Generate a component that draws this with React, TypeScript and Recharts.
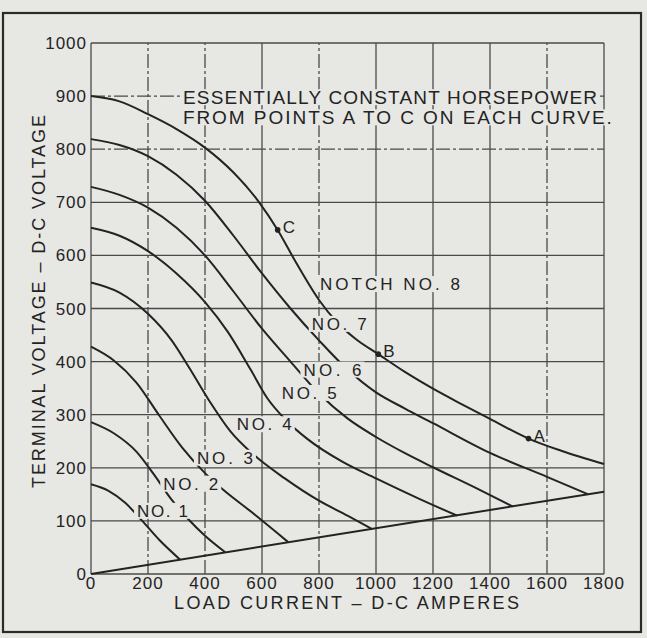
import React from "react";
import { LineChart, Line, XAxis, YAxis, ReferenceLine, ReferenceDot } from "recharts";

const PAPER = "#e7e7e4";
const INK = "#232323";
const GRID = "#4a4a4a";
const FONT = "'Liberation Sans', Arial, Helvetica, sans-serif";

const X_TICKS = [0, 200, 400, 600, 800, 1000, 1200, 1400, 1600, 1800];
const Y_TICKS = [0, 100, 200, 300, 400, 500, 600, 700, 800, 900, 1000];
const DASHED_X = [200, 400, 800, 1600];
const DASHED_Y = [800, 900];

// [amperes, volts]
const NOTCH_1 = [[0, 169], [60, 157], [120, 134], [180, 100], [240, 64], [313, 27]];
const NOTCH_2 = [[0, 286], [80, 265], [160, 230], [220, 188], [280, 142], [340, 104], [400, 72], [471, 41]];
const NOTCH_3 = [[0, 428], [80, 402], [160, 360], [240, 298], [320, 238], [400, 190], [465, 158], [560, 118], [692, 60]];
const NOTCH_4 = [[0, 549], [100, 530], [200, 490], [283, 440], [343, 390], [420, 322], [490, 268], [570, 225], [680, 180], [800, 138], [900, 110], [985, 85]];
const NOTCH_5 = [[0, 652], [100, 637], [200, 608], [300, 566], [400, 512], [480, 456], [560, 385], [620, 330], [680, 292], [760, 254], [880, 212], [1000, 180], [1150, 142], [1284, 110]];
const NOTCH_6 = [[0, 729], [100, 714], [200, 690], [300, 652], [400, 600], [500, 532], [600, 462], [700, 400], [800, 340], [900, 293], [1000, 258], [1100, 228], [1200, 201], [1350, 162], [1480, 127]];
const NOTCH_7 = [[0, 819], [100, 808], [200, 787], [300, 752], [400, 703], [500, 637], [600, 566], [700, 500], [800, 440], [900, 385], [1000, 342], [1100, 312], [1200, 284], [1400, 228], [1600, 183], [1745, 150]];
const NOTCH_8 = [[0, 900], [100, 890], [200, 866], [300, 838], [400, 803], [500, 756], [590, 700], [655, 648], [720, 586], [800, 516], [860, 476], [930, 442], [1008, 414], [1100, 381], [1200, 349], [1300, 320], [1400, 292], [1535, 255], [1650, 232], [1800, 207]];
const MIN_VOLTAGE = [[0, 0], [1800, 155]];

const CURVES = [NOTCH_1, NOTCH_2, NOTCH_3, NOTCH_4, NOTCH_5, NOTCH_6, NOTCH_7, NOTCH_8, MIN_VOLTAGE];

const POINTS = [
  { name: "C", a: 655, v: 648 },
  { name: "B", a: 1008, v: 414 },
  { name: "A", a: 1535, v: 255 },
];

// text placed on the plot, anchored in data units (centre of text)
const TAGS = [
  { text: "NO. 1", a: 251, v: 119, w: 51 },
  { text: "NO. 2", a: 350, v: 170, w: 55 },
  { text: "NO. 3", a: 470, v: 219, w: 56 },
  { text: "NO. 4", a: 608, v: 282, w: 55 },
  { text: "NO. 5", a: 766, v: 341, w: 55 },
  { text: "NO. 6", a: 847, v: 385, w: 58 },
  { text: "NO. 7", a: 871, v: 471, w: 55 },
  { text: "NOTCH NO. 8", a: 1049, v: 546, w: 140 },
  { text: "ESSENTIALLY CONSTANT HORSEPOWER", a: 1049, v: 898, w: 414 },
  { text: "FROM POINTS A TO C ON EACH CURVE.", a: 1075, v: 860, w: 429 },
];

const toRows = (pts: number[][]) => pts.map(([a, v]) => ({ a, v }));

function Tag({ viewBox, text, w }: any) {
  const cx = viewBox.x + viewBox.width / 2;
  const cy = viewBox.y + viewBox.height / 2;
  const size = w > 200 ? 19 : 17;
  return (
    <g>
      <rect x={cx - w / 2 - 3} y={cy - 8} width={w + 6} height={16} fill={PAPER} />
      <text x={cx} y={cy} dy="0.36em" textAnchor="middle" fontSize={size} fontFamily={FONT} fill={INK}
        textLength={w} lengthAdjust="spacing">{text}</text>
    </g>
  );
}

function Letter({ viewBox, text }: any) {
  const cx = viewBox.x + viewBox.width / 2;
  const cy = viewBox.y + viewBox.height / 2;
  return (
    <text x={cx + 5} y={cy - 3} dy="0.36em" fontSize={17} fontFamily={FONT} fill={INK}>{text}</text>
  );
}

function XTitle({ viewBox }: any) {
  const cx = viewBox.x + viewBox.width / 2 - 1;
  return (
    <text x={cx} y={viewBox.y + 29} dy="0.36em" textAnchor="middle" fontSize={18} fontFamily={FONT} fill={INK}
      textLength={345} lengthAdjust="spacing">LOAD CURRENT – D-C AMPERES</text>
  );
}

function YTitle({ viewBox }: any) {
  const cx = viewBox.x + 19;
  const cy = viewBox.y + viewBox.height / 2 - 7;
  return (
    <text x={cx} y={cy} dy="0.36em" textAnchor="middle" fontSize={18} fontFamily={FONT} fill={INK}
      transform={`rotate(-90 ${cx} ${cy})`} textLength={373} lengthAdjust="spacing">TERMINAL VOLTAGE – D-C VOLTAGE</text>
  );
}

export default function App() {
  const tick = { fontSize: 17, fill: INK, fontFamily: FONT, letterSpacing: 1 };
  return (
    <div style={{ position: "absolute", left: 0, top: 0, width: 647, height: 638, background: PAPER }}>
      <svg width={647} height={638} style={{ position: "absolute", left: 0, top: 0 }}>
        <rect x={3} y={13} width={638} height={619} fill="none" stroke="#2a2a2a" strokeWidth={2.2} />
      </svg>
      <div style={{ position: "absolute", left: 0, top: 0 }}>
        <LineChart width={647} height={638} margin={{ top: 43, right: 43, bottom: 34, left: 20 }}>
          <XAxis type="number" dataKey="a" domain={[0, 1800]} ticks={X_TICKS} interval={0}
            axisLine={false} tickLine={false} tickSize={1} tickMargin={2} height={30} tick={tick}
            label={<XTitle />} />
          <YAxis type="number" dataKey="v" domain={[0, 1000]} ticks={Y_TICKS} interval={0}
            axisLine={false} tickLine={false} tickSize={2} tickMargin={2} width={71} tick={tick}
            label={<YTitle />} />
          {X_TICKS.map((x) => (
            <ReferenceLine key={"x" + x} x={x} stroke={GRID} strokeWidth={1.3}
              strokeDasharray={DASHED_X.includes(x) ? "14 3 3 3" : undefined} />
          ))}
          {Y_TICKS.map((y) => (
            <ReferenceLine key={"y" + y} y={y} stroke={GRID} strokeWidth={1.3}
              strokeDasharray={DASHED_Y.includes(y) ? "14 3 3 3" : undefined} />
          ))}
          {CURVES.map((c, i) => (
            <Line key={i} data={toRows(c)} dataKey="v" type={i === 8 ? "linear" : "monotone"}
              stroke={INK} strokeWidth={2} dot={false} activeDot={false} isAnimationActive={false} />
          ))}
          {TAGS.map((t) => (
            <ReferenceDot key={t.text} x={t.a} y={t.v} r={0} fill="none" stroke="none"
              label={<Tag text={t.text} w={t.w} />} />
          ))}
          {POINTS.map((p) => (
            <ReferenceDot key={p.name} x={p.a} y={p.v} r={2.8} fill={INK} stroke="none"
              label={<Letter text={p.name} />} />
          ))}
        </LineChart>
      </div>
    </div>
  );
}
